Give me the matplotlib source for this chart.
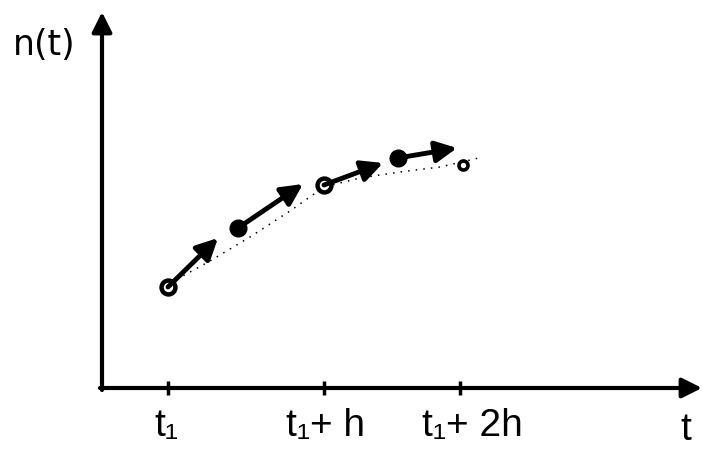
import matplotlib.pyplot as plt

plt.rcParams['font.family'] = ['Liberation Sans', 'DejaVu Sans']

# sketch coordinates (t to the right, n downward as in the drawing)
tick_t = [168, 324, 460]
tick_labels = ['t\u2081', 't\u2081+ h', 't\u2081+ 2h']
label_t = [166, 326, 472]

# open circles: exact solution values, filled circles: midpoints
open_t = [168, 324]
open_n = [287, 185]
end_t = [463]
end_n = [165]
full_t = [238, 398]
full_n = [228, 158]

# slope arrows
arrow_t0 = [168, 238, 324, 398]
arrow_n0 = [287, 228, 185, 158]
arrow_t1 = [218, 303, 383, 457]
arrow_n1 = [238, 184, 163, 148]

# dotted true curve
curve_t = [170, 210, 250, 290, 324, 360, 400, 440, 483]
curve_n = [283, 261, 237, 211, 187, 178, 172, 167, 157]

fig = plt.figure(figsize=(7.03, 4.49), dpi=100)
ax = fig.add_axes([0, 0, 1, 1])
ax.set_xlim(0, 703)
ax.set_ylim(449, 0)
ax.axis('off')

# axes with arrow heads
ax.annotate('', xy=(102, 12), xytext=(102, 390),
            arrowprops=dict(arrowstyle='-|>', lw=3, color='black',
                            mutation_scale=30, shrinkA=0, shrinkB=0))
ax.annotate('', xy=(702, 388), xytext=(100, 388),
            arrowprops=dict(arrowstyle='-|>', lw=3, color='black',
                            mutation_scale=30, shrinkA=0, shrinkB=0))

# ticks and labels
for t in tick_t:
    ax.plot([t, t], [381, 395], color='black', lw=2.5, solid_capstyle='butt')
for t, lab in zip(label_t, tick_labels):
    ax.text(t, 436, lab, ha='center', va='baseline', fontsize=28)

ax.text(44, 55, 'n(t)', ha='center', va='baseline', fontsize=25,
        family='DejaVu Sans')
ax.text(686, 440, 't', ha='center', va='baseline', fontsize=28)

# dotted curve
ax.plot(curve_t, curve_n, color='black', lw=1.1, linestyle=(0, (1, 4)))

# slope arrows
for a, b, c, d in zip(arrow_t0, arrow_n0, arrow_t1, arrow_n1):
    ax.annotate('', xy=(c, d), xytext=(a, b),
                arrowprops=dict(arrowstyle='-|>', lw=3.5, color='black',
                                mutation_scale=32, shrinkA=0, shrinkB=0))

# points
ax.plot(open_t, open_n, 'o', ms=10, mfc='white', mec='black', mew=3.2)
ax.plot(end_t, end_n, 'o', ms=6.5, mfc='white', mec='black', mew=2.6)
ax.plot(full_t, full_n, 'o', ms=12, color='black')

fig.savefig('out.png', dpi=100)
